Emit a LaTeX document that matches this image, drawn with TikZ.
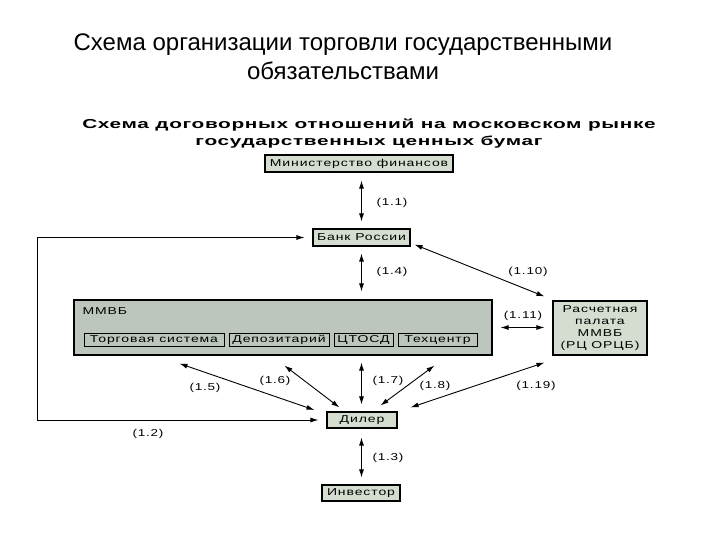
\documentclass[tikz,border=0pt]{standalone}
\usepackage{fontspec}
\setmainfont{Liberation Sans}
\newfontfamily\pixfont[FakeStretch=1.4,LetterSpace=9]{Liberation Sans}
\newfontfamily\lblfont[FakeStretch=1.35,LetterSpace=8]{Liberation Sans}
\newfontfamily\headfont[FakeStretch=1.6,LetterSpace=5]{Liberation Sans Bold}
\usepackage{tikz}
\usetikzlibrary{positioning, arrows.meta, calc}
\definecolor{BoxFill}{RGB}{212,221,208}
\definecolor{ExFill}{RGB}{188,198,188}

\begin{document}
\begin{tikzpicture}[x=1pt, y=-1pt,
          box/.style={rectangle, draw=black, line width=1.1pt, fill=BoxFill,
                      inner sep=0pt, text height=7.5pt, text depth=2pt,
                      font=\pixfont\fontsize{10}{11}\selectfont},
          sub/.style={rectangle, draw=black, line width=1pt, fill=ExFill,
                      inner sep=0pt, minimum height=13pt, text height=7.5pt, text depth=2pt,
                      font=\pixfont\fontsize{10}{11}\selectfont},
          lbl/.style={font=\lblfont\fontsize{10}{11}\selectfont},
          arr/.style={-{Latex[length=8pt, width=5pt]}, line width=0.9pt},
          dbl/.style={{Latex[length=8pt, width=5pt]}-{Latex[length=8pt, width=5pt]}, line width=0.9pt}
        ]
        \useasboundingbox (0,0) rectangle (720,540);

        % Titles
        \node[font=\fontsize{24}{29}\selectfont, align=center] (title) at (343,57)
              {Схема организации торговли государственными\\обязательствами};
        \node[font=\headfont\fontsize{13}{17}\selectfont, align=center] (subtitle) at (369,134)
              {Схема договорных отношений на московском рынке\\государственных ценных бумаг};

        % Boxes
        \node[box, minimum width=188pt, minimum height=17pt] (minfin) at (359,163.5) {Министерство финансов};
        \node[box, minimum width=97pt, minimum height=17pt]  (bank)   at (361.5,237.5) {Банк России};
        \node[box, fill=ExFill, minimum width=418pt, minimum height=55pt] (mmvb) at (283,327.5) {};
        \node[box, draw=none, fill=none, anchor=west] (mmvbname) at (82,312) {ММВБ};
        \node[sub, minimum width=140pt] (trade) at (154,339.5) {Торговая система};
        \node[sub, minimum width=100pt] (depo)  at (279,339.5) {Депозитарий};
        \node[sub, minimum width=59pt]  (ctosd) at (363.5,339.5) {ЦТОСД};
        \node[sub, minimum width=79pt]  (tech)  at (437.5,339.5) {Техцентр};
        \node[box, minimum width=94pt, minimum height=54pt, align=center,
              text height=, text depth=,
              font=\pixfont\fontsize{10}{12}\selectfont] (rcp) at (600,328)
              {Расчетная\\палата\\ММВБ\\(РЦ ОРЦБ)};
        \node[box, minimum width=70pt, minimum height=16pt] (dealer) at (362,420) {Дилер};
        \node[box, minimum width=78pt, minimum height=16pt] (investor) at (361,493) {Инвестор};

        % Links
        \coordinate (lft) at (37,0);
        \draw[dbl, shorten <=8pt, shorten >=7pt] (minfin.south -| bank) -- (bank);
        \draw[dbl, shorten <=7pt, shorten >=8pt] (bank) -- (bank |- mmvb.north);
        \draw[dbl] ($(bank.south east)+(4,-2)$) -- ($(rcp.north west)+(-8,-4)$);
        \draw[dbl, shorten <=8pt, shorten >=8pt] (mmvb.east) -- (mmvb.east -| rcp.west);
        \draw[arr, shorten >=8pt] (lft |- dealer.west) -- (lft |- bank.west) -- (bank.west);
        \draw[arr, shorten >=8pt] (lft |- dealer.west) -- (dealer.west);
        \draw[dbl] ($(mmvb.south west)+(106,8)$) -- ($(dealer.west)+(-12,-10)$);
        \draw[dbl] ($(mmvb.south west)+(211,10)$) -- ($(dealer.north west)+(13,-4)$);
        \draw[dbl, shorten <=7pt, shorten >=7pt] (mmvb.south -| bank) -- (dealer.north -| bank);
        \draw[dbl] ($(mmvb.south west)+(361,10)$) -- ($(dealer.north east)+(-17,-6)$);
        \draw[dbl] ($(rcp.south west)+(-8,7)$) -- ($(dealer.north east)+(13,-4)$);
        \draw[dbl, shorten <=9pt, shorten >=7pt] (dealer.south -| bank) -- (investor.north -| bank);

        % Link labels
        \node[lbl] (l11) at (392,203) {(1.1)};
        \node[lbl] (l14) at (392,272) {(1.4)};
        \node[lbl] (l110) at (528,272) {(1.10)};
        \node[lbl] (l111) at (523,316) {(1.11)};
        \node[lbl] (l12) at (148,434) {(1.2)};
        \node[lbl] (l15) at (205,388) {(1.5)};
        \node[lbl] (l16) at (275,381) {(1.6)};
        \node[lbl] (l17) at (388,381) {(1.7)};
        \node[lbl] (l18) at (435,386) {(1.8)};
        \node[lbl] (l119) at (536,386) {(1.19)};
        \node[lbl] (l13) at (388,458) {(1.3)};
      \end{tikzpicture}
\end{document}
